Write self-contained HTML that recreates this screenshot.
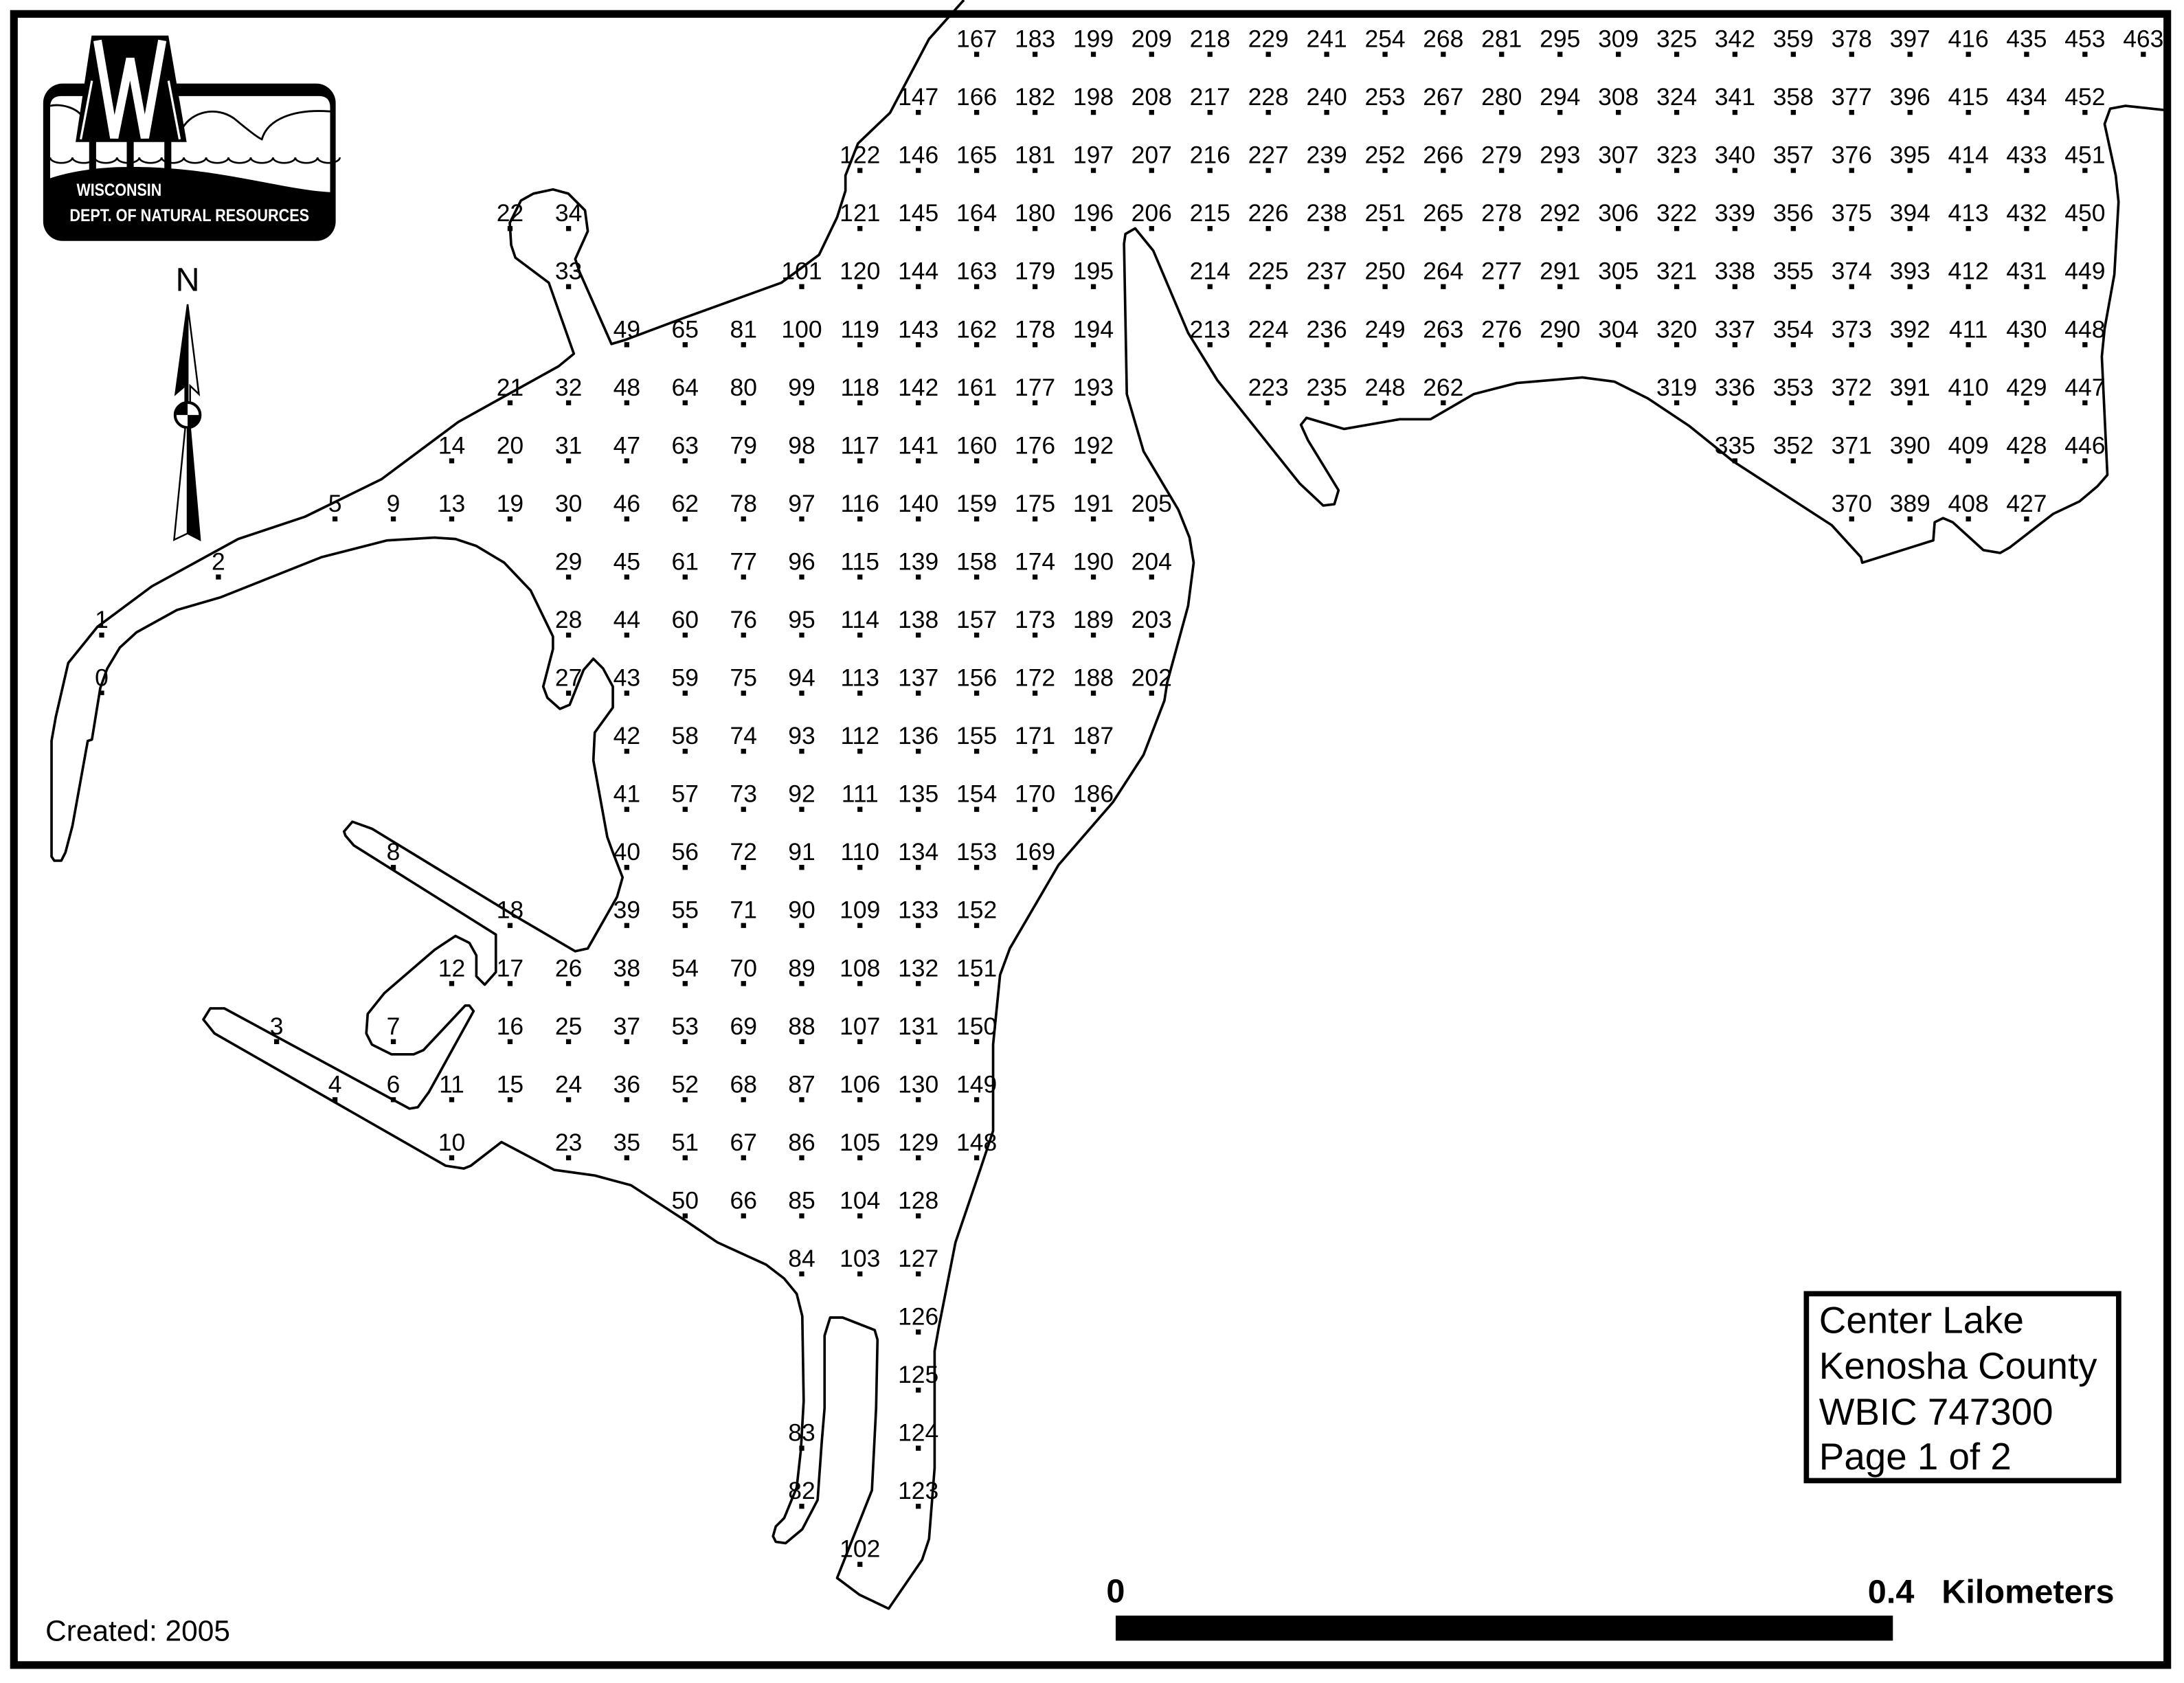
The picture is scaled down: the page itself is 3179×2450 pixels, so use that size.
<!DOCTYPE html>
<html><head><meta charset="utf-8"><style>html,body{margin:0;padding:0;background:#fff}svg{display:block}</style></head>
<body>
<svg xmlns="http://www.w3.org/2000/svg" width="3179" height="2450" viewBox="0 0 1568 1208.4" preserveAspectRatio="none">
<rect x="0" y="0" width="1568" height="1208.4" fill="#fff"/>
<path fill="none" stroke="#000" stroke-width="1.8" stroke-linejoin="round" d="M692,0 L667,28 639,81 616,103 607,126 607,137 601,156 588,183 561,203 489,229 449,244 439,247 416,195 413,186 422,166 420,151 408,139 397,136 383,139 374,144 366,160 367,176 370,185 394,203 412,254 401,263 329,303 274,344 219,371 171,387 109,421 70,450 49,476 40,515 37,532 37,615 39,618 44,618 47,612 52,593 63,532 66,531 72,494 77,480 86,465 98,454 127,438 158,429 231,400 278,388 312,386 327,387 342,392 362,404 381,424 397,457 397,466 390,493 393,501 402,509 409,506 419,481 426,473 433,480 440,493 440,508 427,526 426,546 436,601 440,612 447,630 443,644 422,681 413,683 372,659 267,595 253,590 247,597 248,600 254,607 356,671 356,698 348,707 342,701 342,686 337,677 327,672 312,682 276,713 264,728 263,742 267,750 281,757 297,757 304,754 334,722 337,722 340,726 308,784 300,795 294,796 161,724 151,724 146,732 154,742 320,837 333,839 338,837 360,820 398,840 427,844 453,851 493,877 515,892 550,908 563,918 572,929 576,945 577,1006 575,1041 572,1068 563,1090 557,1096 555,1103 557,1107 564,1108 576,1098 587,1077 590,1035 592,1011 592,959 596,946 605,946 628,955 630,962 629,1011 626,1070 601,1133 617,1145 638,1155 662,1120 667,1105 671,1054 671,970 674,953 686,892 704,839 713,812 713,750 718,700 725,681 760,621 799,576 821,542 836,503 838,490 853,435 857,404 854,386 846,366 821,324 809,283 807,175 808,168 815,164 828,180 853,239 874,273 933,347 950,363 958,362 961,352 939,316 934,305 938,300 965,308 1005,301 1027,301 1058,283 1089,275 1136,271 1159,274 1183,286 1213,306 1244,331 1315,377 1336,400 1337,404 1388,388 1389,375 1395,372 1402,375 1424,395 1436,397 1443,393 1474,369 1493,360 1506,349 1513,341 1509,256 1511,236 1518,197 1521,145 1519,126 1511,89 1515,78 1526,76 1554,79"/>
<rect x="10" y="10" width="1546" height="1185.5" fill="none" stroke="#000" stroke-width="5.5"/>
<g stroke="#000" stroke-width="3.6" stroke-dasharray="3.6 38.1">
<line x1="73" x2="73" y1="454.2" y2="499.1"/>
<line x1="156.8" x2="156.8" y1="412.5" y2="416.1"/>
<line x1="198.6" x2="198.6" y1="746.1" y2="749.7"/>
<line x1="240.5" x2="240.5" y1="370.8" y2="374.4"/>
<line x1="240.5" x2="240.5" y1="787.8" y2="791.4"/>
<line x1="282.4" x2="282.4" y1="370.8" y2="374.4"/>
<line x1="282.4" x2="282.4" y1="621" y2="624.6"/>
<line x1="282.4" x2="282.4" y1="746.1" y2="791.4"/>
<line x1="324.3" x2="324.3" y1="329.1" y2="374.4"/>
<line x1="324.3" x2="324.3" y1="704.4" y2="708"/>
<line x1="324.3" x2="324.3" y1="787.8" y2="833.1"/>
<line x1="366.2" x2="366.2" y1="162.3" y2="165.9"/>
<line x1="366.2" x2="366.2" y1="287.4" y2="374.4"/>
<line x1="366.2" x2="366.2" y1="662.7" y2="791.4"/>
<line x1="408.2" x2="408.2" y1="162.3" y2="207.6"/>
<line x1="408.2" x2="408.2" y1="287.4" y2="499.5"/>
<line x1="408.2" x2="408.2" y1="704.4" y2="833.1"/>
<line x1="450" x2="450" y1="245.7" y2="833.1"/>
<line x1="491.9" x2="491.9" y1="245.7" y2="874.8"/>
<line x1="533.8" x2="533.8" y1="245.7" y2="874.8"/>
<line x1="575.6" x2="575.6" y1="204" y2="916.5"/>
<line x1="575.6" x2="575.6" y1="1038" y2="1083.3"/>
<line x1="617.4" x2="617.4" y1="120.6" y2="916.5"/>
<line x1="617.4" x2="617.4" y1="1121.4" y2="1125"/>
<line x1="659.3" x2="659.3" y1="78.9" y2="1083.3"/>
<line x1="701.2" x2="701.2" y1="37.2" y2="833.1"/>
<line x1="743.1" x2="743.1" y1="37.2" y2="624.6"/>
<line x1="785" x2="785" y1="37.2" y2="582.9"/>
<line x1="826.8" x2="826.8" y1="37.2" y2="165.9"/>
<line x1="826.8" x2="826.8" y1="370.8" y2="499.5"/>
<line x1="868.7" x2="868.7" y1="37.2" y2="249.3"/>
<line x1="910.6" x2="910.6" y1="37.2" y2="291"/>
<line x1="952.5" x2="952.5" y1="37.2" y2="291"/>
<line x1="994.4" x2="994.4" y1="37.2" y2="291"/>
<line x1="1036.2" x2="1036.2" y1="37.2" y2="291"/>
<line x1="1078.1" x2="1078.1" y1="37.2" y2="249.3"/>
<line x1="1120" x2="1120" y1="37.2" y2="249.3"/>
<line x1="1161.9" x2="1161.9" y1="37.2" y2="249.3"/>
<line x1="1203.8" x2="1203.8" y1="37.2" y2="291"/>
<line x1="1245.6" x2="1245.6" y1="37.2" y2="332.7"/>
<line x1="1287.5" x2="1287.5" y1="37.2" y2="332.7"/>
<line x1="1329.4" x2="1329.4" y1="37.2" y2="374.4"/>
<line x1="1371.3" x2="1371.3" y1="37.2" y2="374.4"/>
<line x1="1413.2" x2="1413.2" y1="37.2" y2="374.4"/>
<line x1="1455" x2="1455" y1="37.2" y2="374.4"/>
<line x1="1496.9" x2="1496.9" y1="37.2" y2="332.7"/>
<line x1="1538.8" x2="1538.8" y1="37.2" y2="40.8"/>
</g>
<g font-family="Liberation Sans, Arial, sans-serif" font-size="17.5" text-anchor="middle" fill="#000">
<text x="73" y="450.8">1<tspan x="73" dy="41.7">0</tspan></text>
<text x="156.8" y="409.1">2</text>
<text x="198.6" y="742.7">3</text>
<text x="240.5" y="367.4">5</text>
<text x="240.5" y="784.4">4</text>
<text x="282.4" y="367.4">9</text>
<text x="282.4" y="617.6">8</text>
<text x="282.4" y="742.7">7<tspan x="282.4" dy="41.7">6</tspan></text>
<text x="324.3" y="325.7">14<tspan x="324.3" dy="41.7">13</tspan></text>
<text x="324.3" y="701">12</text>
<text x="324.3" y="784.4">11<tspan x="324.3" dy="41.7">10</tspan></text>
<text x="366.2" y="158.9">22</text>
<text x="366.2" y="284">21<tspan x="366.2" dy="41.7">20</tspan><tspan x="366.2" dy="41.7">19</tspan></text>
<text x="366.2" y="659.3">18<tspan x="366.2" dy="41.7">17</tspan><tspan x="366.2" dy="41.7">16</tspan><tspan x="366.2" dy="41.7">15</tspan></text>
<text x="408.2" y="158.9">34<tspan x="408.2" dy="41.7">33</tspan></text>
<text x="408.2" y="284">32<tspan x="408.2" dy="41.7">31</tspan><tspan x="408.2" dy="41.7">30</tspan><tspan x="408.2" dy="41.7">29</tspan><tspan x="408.2" dy="41.7">28</tspan><tspan x="408.2" dy="41.7">27</tspan></text>
<text x="408.2" y="701">26<tspan x="408.2" dy="41.7">25</tspan><tspan x="408.2" dy="41.7">24</tspan><tspan x="408.2" dy="41.7">23</tspan></text>
<text x="450" y="242.3">49<tspan x="450" dy="41.7">48</tspan><tspan x="450" dy="41.7">47</tspan><tspan x="450" dy="41.7">46</tspan><tspan x="450" dy="41.7">45</tspan><tspan x="450" dy="41.7">44</tspan><tspan x="450" dy="41.7">43</tspan><tspan x="450" dy="41.7">42</tspan><tspan x="450" dy="41.7">41</tspan><tspan x="450" dy="41.7">40</tspan><tspan x="450" dy="41.7">39</tspan><tspan x="450" dy="41.7">38</tspan><tspan x="450" dy="41.7">37</tspan><tspan x="450" dy="41.7">36</tspan><tspan x="450" dy="41.7">35</tspan></text>
<text x="491.9" y="242.3">65<tspan x="491.9" dy="41.7">64</tspan><tspan x="491.9" dy="41.7">63</tspan><tspan x="491.9" dy="41.7">62</tspan><tspan x="491.9" dy="41.7">61</tspan><tspan x="491.9" dy="41.7">60</tspan><tspan x="491.9" dy="41.7">59</tspan><tspan x="491.9" dy="41.7">58</tspan><tspan x="491.9" dy="41.7">57</tspan><tspan x="491.9" dy="41.7">56</tspan><tspan x="491.9" dy="41.7">55</tspan><tspan x="491.9" dy="41.7">54</tspan><tspan x="491.9" dy="41.7">53</tspan><tspan x="491.9" dy="41.7">52</tspan><tspan x="491.9" dy="41.7">51</tspan><tspan x="491.9" dy="41.7">50</tspan></text>
<text x="533.8" y="242.3">81<tspan x="533.8" dy="41.7">80</tspan><tspan x="533.8" dy="41.7">79</tspan><tspan x="533.8" dy="41.7">78</tspan><tspan x="533.8" dy="41.7">77</tspan><tspan x="533.8" dy="41.7">76</tspan><tspan x="533.8" dy="41.7">75</tspan><tspan x="533.8" dy="41.7">74</tspan><tspan x="533.8" dy="41.7">73</tspan><tspan x="533.8" dy="41.7">72</tspan><tspan x="533.8" dy="41.7">71</tspan><tspan x="533.8" dy="41.7">70</tspan><tspan x="533.8" dy="41.7">69</tspan><tspan x="533.8" dy="41.7">68</tspan><tspan x="533.8" dy="41.7">67</tspan><tspan x="533.8" dy="41.7">66</tspan></text>
<text x="575.6" y="200.6">101<tspan x="575.6" dy="41.7">100</tspan><tspan x="575.6" dy="41.7">99</tspan><tspan x="575.6" dy="41.7">98</tspan><tspan x="575.6" dy="41.7">97</tspan><tspan x="575.6" dy="41.7">96</tspan><tspan x="575.6" dy="41.7">95</tspan><tspan x="575.6" dy="41.7">94</tspan><tspan x="575.6" dy="41.7">93</tspan><tspan x="575.6" dy="41.7">92</tspan><tspan x="575.6" dy="41.7">91</tspan><tspan x="575.6" dy="41.7">90</tspan><tspan x="575.6" dy="41.7">89</tspan><tspan x="575.6" dy="41.7">88</tspan><tspan x="575.6" dy="41.7">87</tspan><tspan x="575.6" dy="41.7">86</tspan><tspan x="575.6" dy="41.7">85</tspan><tspan x="575.6" dy="41.7">84</tspan></text>
<text x="575.6" y="1034.6">83<tspan x="575.6" dy="41.7">82</tspan></text>
<text x="617.4" y="117.2">122<tspan x="617.4" dy="41.7">121</tspan><tspan x="617.4" dy="41.7">120</tspan><tspan x="617.4" dy="41.7">119</tspan><tspan x="617.4" dy="41.7">118</tspan><tspan x="617.4" dy="41.7">117</tspan><tspan x="617.4" dy="41.7">116</tspan><tspan x="617.4" dy="41.7">115</tspan><tspan x="617.4" dy="41.7">114</tspan><tspan x="617.4" dy="41.7">113</tspan><tspan x="617.4" dy="41.7">112</tspan><tspan x="617.4" dy="41.7">111</tspan><tspan x="617.4" dy="41.7">110</tspan><tspan x="617.4" dy="41.7">109</tspan><tspan x="617.4" dy="41.7">108</tspan><tspan x="617.4" dy="41.7">107</tspan><tspan x="617.4" dy="41.7">106</tspan><tspan x="617.4" dy="41.7">105</tspan><tspan x="617.4" dy="41.7">104</tspan><tspan x="617.4" dy="41.7">103</tspan></text>
<text x="617.4" y="1118">102</text>
<text x="659.3" y="75.5">147<tspan x="659.3" dy="41.7">146</tspan><tspan x="659.3" dy="41.7">145</tspan><tspan x="659.3" dy="41.7">144</tspan><tspan x="659.3" dy="41.7">143</tspan><tspan x="659.3" dy="41.7">142</tspan><tspan x="659.3" dy="41.7">141</tspan><tspan x="659.3" dy="41.7">140</tspan><tspan x="659.3" dy="41.7">139</tspan><tspan x="659.3" dy="41.7">138</tspan><tspan x="659.3" dy="41.7">137</tspan><tspan x="659.3" dy="41.7">136</tspan><tspan x="659.3" dy="41.7">135</tspan><tspan x="659.3" dy="41.7">134</tspan><tspan x="659.3" dy="41.7">133</tspan><tspan x="659.3" dy="41.7">132</tspan><tspan x="659.3" dy="41.7">131</tspan><tspan x="659.3" dy="41.7">130</tspan><tspan x="659.3" dy="41.7">129</tspan><tspan x="659.3" dy="41.7">128</tspan><tspan x="659.3" dy="41.7">127</tspan><tspan x="659.3" dy="41.7">126</tspan><tspan x="659.3" dy="41.7">125</tspan><tspan x="659.3" dy="41.7">124</tspan><tspan x="659.3" dy="41.7">123</tspan></text>
<text x="701.2" y="33.8">167<tspan x="701.2" dy="41.7">166</tspan><tspan x="701.2" dy="41.7">165</tspan><tspan x="701.2" dy="41.7">164</tspan><tspan x="701.2" dy="41.7">163</tspan><tspan x="701.2" dy="41.7">162</tspan><tspan x="701.2" dy="41.7">161</tspan><tspan x="701.2" dy="41.7">160</tspan><tspan x="701.2" dy="41.7">159</tspan><tspan x="701.2" dy="41.7">158</tspan><tspan x="701.2" dy="41.7">157</tspan><tspan x="701.2" dy="41.7">156</tspan><tspan x="701.2" dy="41.7">155</tspan><tspan x="701.2" dy="41.7">154</tspan><tspan x="701.2" dy="41.7">153</tspan><tspan x="701.2" dy="41.7">152</tspan><tspan x="701.2" dy="41.7">151</tspan><tspan x="701.2" dy="41.7">150</tspan><tspan x="701.2" dy="41.7">149</tspan><tspan x="701.2" dy="41.7">148</tspan></text>
<text x="743.1" y="33.8">183<tspan x="743.1" dy="41.7">182</tspan><tspan x="743.1" dy="41.7">181</tspan><tspan x="743.1" dy="41.7">180</tspan><tspan x="743.1" dy="41.7">179</tspan><tspan x="743.1" dy="41.7">178</tspan><tspan x="743.1" dy="41.7">177</tspan><tspan x="743.1" dy="41.7">176</tspan><tspan x="743.1" dy="41.7">175</tspan><tspan x="743.1" dy="41.7">174</tspan><tspan x="743.1" dy="41.7">173</tspan><tspan x="743.1" dy="41.7">172</tspan><tspan x="743.1" dy="41.7">171</tspan><tspan x="743.1" dy="41.7">170</tspan><tspan x="743.1" dy="41.7">169</tspan></text>
<text x="785" y="33.8">199<tspan x="785" dy="41.7">198</tspan><tspan x="785" dy="41.7">197</tspan><tspan x="785" dy="41.7">196</tspan><tspan x="785" dy="41.7">195</tspan><tspan x="785" dy="41.7">194</tspan><tspan x="785" dy="41.7">193</tspan><tspan x="785" dy="41.7">192</tspan><tspan x="785" dy="41.7">191</tspan><tspan x="785" dy="41.7">190</tspan><tspan x="785" dy="41.7">189</tspan><tspan x="785" dy="41.7">188</tspan><tspan x="785" dy="41.7">187</tspan><tspan x="785" dy="41.7">186</tspan></text>
<text x="826.8" y="33.8">209<tspan x="826.8" dy="41.7">208</tspan><tspan x="826.8" dy="41.7">207</tspan><tspan x="826.8" dy="41.7">206</tspan></text>
<text x="826.8" y="367.4">205<tspan x="826.8" dy="41.7">204</tspan><tspan x="826.8" dy="41.7">203</tspan><tspan x="826.8" dy="41.7">202</tspan></text>
<text x="868.7" y="33.8">218<tspan x="868.7" dy="41.7">217</tspan><tspan x="868.7" dy="41.7">216</tspan><tspan x="868.7" dy="41.7">215</tspan><tspan x="868.7" dy="41.7">214</tspan><tspan x="868.7" dy="41.7">213</tspan></text>
<text x="910.6" y="33.8">229<tspan x="910.6" dy="41.7">228</tspan><tspan x="910.6" dy="41.7">227</tspan><tspan x="910.6" dy="41.7">226</tspan><tspan x="910.6" dy="41.7">225</tspan><tspan x="910.6" dy="41.7">224</tspan><tspan x="910.6" dy="41.7">223</tspan></text>
<text x="952.5" y="33.8">241<tspan x="952.5" dy="41.7">240</tspan><tspan x="952.5" dy="41.7">239</tspan><tspan x="952.5" dy="41.7">238</tspan><tspan x="952.5" dy="41.7">237</tspan><tspan x="952.5" dy="41.7">236</tspan><tspan x="952.5" dy="41.7">235</tspan></text>
<text x="994.4" y="33.8">254<tspan x="994.4" dy="41.7">253</tspan><tspan x="994.4" dy="41.7">252</tspan><tspan x="994.4" dy="41.7">251</tspan><tspan x="994.4" dy="41.7">250</tspan><tspan x="994.4" dy="41.7">249</tspan><tspan x="994.4" dy="41.7">248</tspan></text>
<text x="1036.2" y="33.8">268<tspan x="1036.2" dy="41.7">267</tspan><tspan x="1036.2" dy="41.7">266</tspan><tspan x="1036.2" dy="41.7">265</tspan><tspan x="1036.2" dy="41.7">264</tspan><tspan x="1036.2" dy="41.7">263</tspan><tspan x="1036.2" dy="41.7">262</tspan></text>
<text x="1078.1" y="33.8">281<tspan x="1078.1" dy="41.7">280</tspan><tspan x="1078.1" dy="41.7">279</tspan><tspan x="1078.1" dy="41.7">278</tspan><tspan x="1078.1" dy="41.7">277</tspan><tspan x="1078.1" dy="41.7">276</tspan></text>
<text x="1120" y="33.8">295<tspan x="1120" dy="41.7">294</tspan><tspan x="1120" dy="41.7">293</tspan><tspan x="1120" dy="41.7">292</tspan><tspan x="1120" dy="41.7">291</tspan><tspan x="1120" dy="41.7">290</tspan></text>
<text x="1161.9" y="33.8">309<tspan x="1161.9" dy="41.7">308</tspan><tspan x="1161.9" dy="41.7">307</tspan><tspan x="1161.9" dy="41.7">306</tspan><tspan x="1161.9" dy="41.7">305</tspan><tspan x="1161.9" dy="41.7">304</tspan></text>
<text x="1203.8" y="33.8">325<tspan x="1203.8" dy="41.7">324</tspan><tspan x="1203.8" dy="41.7">323</tspan><tspan x="1203.8" dy="41.7">322</tspan><tspan x="1203.8" dy="41.7">321</tspan><tspan x="1203.8" dy="41.7">320</tspan><tspan x="1203.8" dy="41.7">319</tspan></text>
<text x="1245.6" y="33.8">342<tspan x="1245.6" dy="41.7">341</tspan><tspan x="1245.6" dy="41.7">340</tspan><tspan x="1245.6" dy="41.7">339</tspan><tspan x="1245.6" dy="41.7">338</tspan><tspan x="1245.6" dy="41.7">337</tspan><tspan x="1245.6" dy="41.7">336</tspan><tspan x="1245.6" dy="41.7">335</tspan></text>
<text x="1287.5" y="33.8">359<tspan x="1287.5" dy="41.7">358</tspan><tspan x="1287.5" dy="41.7">357</tspan><tspan x="1287.5" dy="41.7">356</tspan><tspan x="1287.5" dy="41.7">355</tspan><tspan x="1287.5" dy="41.7">354</tspan><tspan x="1287.5" dy="41.7">353</tspan><tspan x="1287.5" dy="41.7">352</tspan></text>
<text x="1329.4" y="33.8">378<tspan x="1329.4" dy="41.7">377</tspan><tspan x="1329.4" dy="41.7">376</tspan><tspan x="1329.4" dy="41.7">375</tspan><tspan x="1329.4" dy="41.7">374</tspan><tspan x="1329.4" dy="41.7">373</tspan><tspan x="1329.4" dy="41.7">372</tspan><tspan x="1329.4" dy="41.7">371</tspan><tspan x="1329.4" dy="41.7">370</tspan></text>
<text x="1371.3" y="33.8">397<tspan x="1371.3" dy="41.7">396</tspan><tspan x="1371.3" dy="41.7">395</tspan><tspan x="1371.3" dy="41.7">394</tspan><tspan x="1371.3" dy="41.7">393</tspan><tspan x="1371.3" dy="41.7">392</tspan><tspan x="1371.3" dy="41.7">391</tspan><tspan x="1371.3" dy="41.7">390</tspan><tspan x="1371.3" dy="41.7">389</tspan></text>
<text x="1413.2" y="33.8">416<tspan x="1413.2" dy="41.7">415</tspan><tspan x="1413.2" dy="41.7">414</tspan><tspan x="1413.2" dy="41.7">413</tspan><tspan x="1413.2" dy="41.7">412</tspan><tspan x="1413.2" dy="41.7">411</tspan><tspan x="1413.2" dy="41.7">410</tspan><tspan x="1413.2" dy="41.7">409</tspan><tspan x="1413.2" dy="41.7">408</tspan></text>
<text x="1455" y="33.8">435<tspan x="1455" dy="41.7">434</tspan><tspan x="1455" dy="41.7">433</tspan><tspan x="1455" dy="41.7">432</tspan><tspan x="1455" dy="41.7">431</tspan><tspan x="1455" dy="41.7">430</tspan><tspan x="1455" dy="41.7">429</tspan><tspan x="1455" dy="41.7">428</tspan><tspan x="1455" dy="41.7">427</tspan></text>
<text x="1496.9" y="33.8">453<tspan x="1496.9" dy="41.7">452</tspan><tspan x="1496.9" dy="41.7">451</tspan><tspan x="1496.9" dy="41.7">450</tspan><tspan x="1496.9" dy="41.7">449</tspan><tspan x="1496.9" dy="41.7">448</tspan><tspan x="1496.9" dy="41.7">447</tspan><tspan x="1496.9" dy="41.7">446</tspan></text>
<text x="1538.8" y="33.8">463</text>
</g>
<g>
<rect x="31" y="60" width="210" height="113" rx="14" fill="#000"/>
<path d="M36,77 Q36,69 44,69 L229,69 Q237,69 237,77 L237,138 C200,136 150,118 85,120 C60,121 45,125 36,128 Z" fill="#fff"/>
<path d="M36,76 C44,74 58,78 60,86 M131,92 C138,80 155,76 168,85 C174,90 185,99 188,100 C192,86 210,78 237,80" fill="none" stroke="#000" stroke-width="1.4"/>
<path d="M36,113 a8,4 0 0 0 16,0 a8,4 0 0 0 16,0 a8,4 0 0 0 16,0 a8,4 0 0 0 16,0 a8,4 0 0 0 16,0 a8,4 0 0 0 16,0 a8,4 0 0 0 16,0 a8,4 0 0 0 16,0 a8,4 0 0 0 16,0 a8,4 0 0 0 16,0 a8,4 0 0 0 16,0 a8,4 0 0 0 16,0 a8,4 0 0 0 16,0" fill="none" stroke="#000" stroke-width="1.3"/>
<polygon points="65.8,25.5 120.9,25.5 134,102 54.3,102" fill="#000"/>
<rect x="64" y="100" width="5" height="22" fill="#000"/>
<rect x="91" y="100" width="5" height="22" fill="#000"/>
<rect x="118" y="100" width="5" height="22" fill="#000"/>
<polyline points="70,29 82,99 93.5,42 104,99 116.5,29" fill="none" stroke="#fff" stroke-width="6" stroke-linejoin="miter"/>
<path d="M58,100 L66,58 M129,100 L121,58" stroke="#fff" stroke-width="1.6"/>
<text x="55" y="140.6" font-family="Liberation Sans, Arial, sans-serif" font-weight="bold" font-size="12.5" fill="#fff" textLength="61" lengthAdjust="spacingAndGlyphs">WISCONSIN</text>
<text x="50" y="158.7" font-family="Liberation Sans, Arial, sans-serif" font-weight="bold" font-size="12.5" fill="#fff" textLength="172" lengthAdjust="spacingAndGlyphs">DEPT. OF NATURAL RESOURCES</text>
</g>
<g>
<text x="134.7" y="209" font-family="Liberation Sans, Arial, sans-serif" font-size="24" text-anchor="middle">N</text>
<polygon points="134.7,218.5 142.8,283 136.5,277 136.5,289 134.7,289 134.7,218.5" fill="#fff" stroke="#000" stroke-width="1.2"/>
<polygon points="134.7,218.5 126,283 133,277 133,289 134.7,289" fill="#000" stroke="#000" stroke-width="1.2"/>
<circle cx="134.7" cy="298" r="9" fill="#fff" stroke="#000" stroke-width="2"/>
<path d="M125.7,298 A9,9 0 0 1 134.7,289 L134.7,298 Z M143.7,298 A9,9 0 0 1 134.7,307 L134.7,298 Z" fill="#000"/>
<polygon points="134.7,307 134.7,383 125,387.6 133,307" fill="#fff" stroke="#000" stroke-width="1.2"/>
<polygon points="134.7,307 136.5,307 143.6,387.6 134.7,383" fill="#000" stroke="#000" stroke-width="1.2"/>
</g>
<rect x="1296.9" y="928.9" width="224.2" height="134.2" fill="#fff" stroke="#000" stroke-width="3.8"/>
<g font-family="Liberation Sans, Arial, sans-serif" font-size="27" fill="#000">
<text x="1306" y="957">Center Lake</text>
<text x="1306" y="990">Kenosha County</text>
<text x="1306" y="1023">WBIC 747300</text>
<text x="1306" y="1055">Page 1 of 2</text>
</g>
<rect x="801" y="1160" width="558" height="18" fill="#000"/>
<g font-family="Liberation Sans, Arial, sans-serif" font-weight="bold" font-size="24" fill="#000">
<text x="801" y="1150.5" text-anchor="middle">0</text>
<text x="1341" y="1151">0.4</text>
<text x="1394" y="1151">Kilometers</text>
</g>
<text x="32.6" y="1178" font-family="Liberation Sans, Arial, sans-serif" font-size="21" textLength="132.6" lengthAdjust="spacingAndGlyphs">Created: 2005</text>
</svg>
</body></html>
